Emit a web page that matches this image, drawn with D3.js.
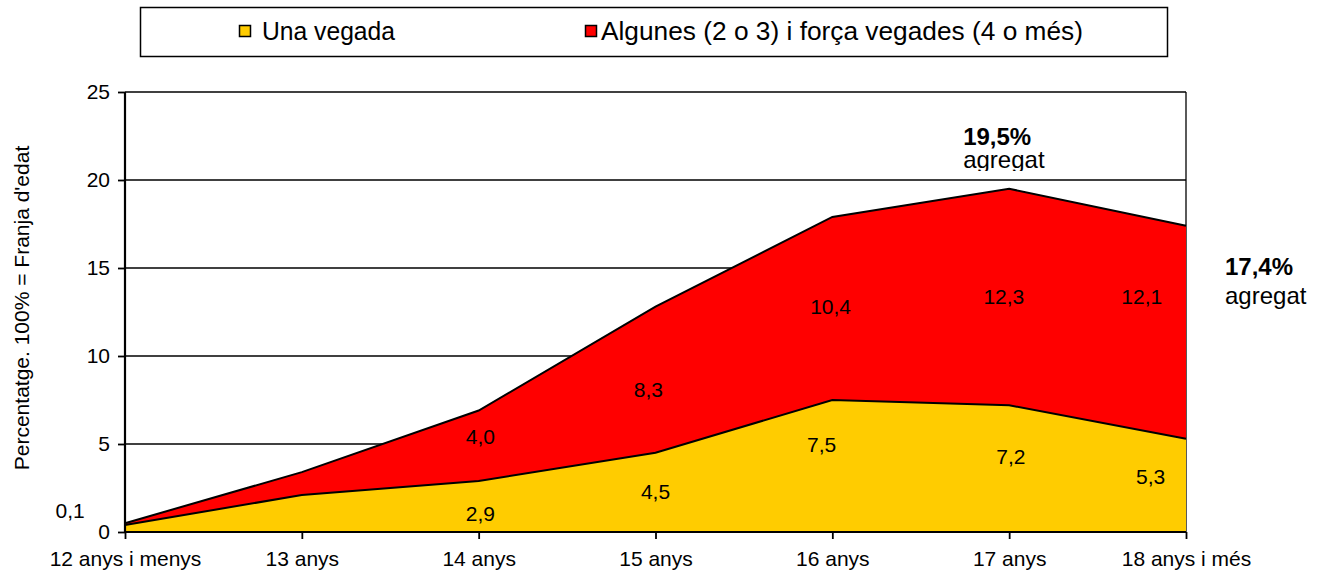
<!DOCTYPE html>
<html>
<head>
<meta charset="utf-8">
<script src="https://cdn.jsdelivr.net/npm/d3@7"></script>
<style>
  html, body { margin: 0; padding: 0; background: #fff; }
  svg { display: block; font-family: Arial, "Liberation Sans", sans-serif; }
</style>
</head>
<body>
<div id="chart"></div>
<script>
// categories and values (percent of each age band)
const categories = ['12 anys i menys', '13 anys', '14 anys', '15 anys', '16 anys', '17 anys', '18 anys i més'];
const unaVegada = [0.4, 2.1, 2.9, 4.5, 7.5, 7.2, 5.3];
const algunesVegades = [0.1, 1.3, 4.0, 8.3, 10.4, 12.3, 12.1];
const seriesNames = ['Una vegada', 'Algunes (2 o 3) i força vegades (4 o més)'];
const yTicks = [0, 5, 10, 15, 20, 25];

// where each value label sits: [category index, y in chart units]
const yellowLabelAt = [null, null, [2.01, 1.08], [3.0, 2.28], [3.94, 4.95], [5.01, 4.27], [5.8, 3.13]];
const redLabelAt = [[-0.31, 1.2], null, [2.01, 5.41], [2.96, 8.09], [3.99, 12.8], [4.97, 13.38], [5.75, 13.38]];

const width = 1325, height = 578;
const margin = { top: 92, right: 139, bottom: 46, left: 125 };
const innerW = width - margin.left - margin.right;
const innerH = height - margin.top - margin.bottom;

const colors = ['#FFCC00', '#FF0000'];
const fmt = v => v.toFixed(1).replace('.', ',');

const svg = d3.select('#chart').append('svg')
  .attr('width', width)
  .attr('height', height);

const x = d3.scaleLinear().domain([0, categories.length - 1]).range([0, innerW]);
const y = d3.scaleLinear().domain([0, 25]).range([innerH, 0]);

const g = svg.append('g').attr('transform', `translate(${margin.left},${margin.top})`);

// gridlines
g.append('g')
  .selectAll('line')
  .data(yTicks.filter(d => d > 0))
  .enter().append('line')
  .attr('x1', 0).attr('x2', innerW)
  .attr('y1', d => y(d)).attr('y2', d => y(d))
  .attr('stroke', '#000').attr('stroke-width', 1.3);

// right border
g.append('line')
  .attr('x1', innerW).attr('x2', innerW)
  .attr('y1', 0).attr('y2', innerH)
  .attr('stroke', '#000').attr('stroke-width', 1.3);

// stacked areas
const rows = categories.map((c, i) => ({ i, a: unaVegada[i], b: algunesVegades[i] }));
const stack = d3.stack().keys(['a', 'b']);
const layers = stack(rows);

const area = d3.area()
  .x(d => x(d.data.i))
  .y0(d => y(d[0]))
  .y1(d => y(d[1]));
const topLine = d3.line()
  .x(d => x(d.data.i))
  .y(d => y(d[1]));

layers.forEach((layer, k) => {
  g.append('path')
    .attr('d', area(layer))
    .attr('fill', colors[k]);
});
layers.forEach(layer => {
  g.append('path')
    .attr('d', topLine(layer))
    .attr('fill', 'none')
    .attr('stroke', '#000')
    .attr('stroke-width', 2);
});

// axes
const yAxis = g.append('g')
  .call(d3.axisLeft(y).tickValues(yTicks).tickSize(7).tickPadding(8).tickFormat(d3.format('d')));
const xAxis = g.append('g')
  .attr('transform', `translate(0,${innerH})`)
  .call(d3.axisBottom(x).tickValues(d3.range(categories.length)).tickSize(7).tickPadding(12)
    .tickFormat(i => categories[i]));

[yAxis, xAxis].forEach(ax => {
  ax.select('.domain').attr('stroke', '#000').attr('stroke-width', 2.2);
  ax.selectAll('.tick line').attr('stroke', '#000').attr('stroke-width', 1.8);
  ax.selectAll('.tick text').attr('font-size', 21).attr('fill', '#000')
    .attr('font-family', 'Arial, "Liberation Sans", sans-serif');
});
xAxis.select('.domain').attr('d', `M0,0H${innerW}`);
yAxis.select('.domain').attr('d', `M0,${innerH}V0`);

// value labels
const labelG = g.append('g')
  .attr('font-size', 21)
  .attr('text-anchor', 'middle')
  .attr('fill', '#000');

unaVegada.forEach((v, i) => {
  const p = yellowLabelAt[i];
  if (!p) return;
  labelG.append('text').attr('x', x(p[0])).attr('y', y(p[1])).attr('dy', '0.36em').text(fmt(v));
});
algunesVegades.forEach((v, i) => {
  const p = redLabelAt[i];
  if (!p) return;
  labelG.append('text').attr('x', x(p[0])).attr('y', y(p[1])).attr('dy', '0.36em').text(fmt(v));
});

// aggregate annotations
svg.append('clipPath').attr('id', 'clipAgg')
  .append('rect').attr('x', 0).attr('y', 0).attr('width', width).attr('height', margin.top + y(20) - 9);

const agg17 = unaVegada[5] + algunesVegades[5];
const agg18 = unaVegada[6] + algunesVegades[6];
const annG = svg.append('g').attr('font-size', 24).attr('fill', '#000');
annG.append('text')
  .attr('x', margin.left + x(5) - 46).attr('y', margin.top + y(20) - 35)
  .attr('font-weight', 'bold').text(fmt(agg17) + '%');
annG.append('text')
  .attr('x', margin.left + x(5) - 46).attr('y', margin.top + y(20) - 12)
  .attr('clip-path', 'url(#clipAgg)').text('agregat');
annG.append('text')
  .attr('x', margin.left + innerW + 39).attr('y', margin.top + y(agg18) + 49)
  .attr('font-weight', 'bold').text(fmt(agg18) + '%');
annG.append('text')
  .attr('x', margin.left + innerW + 39).attr('y', margin.top + y(agg18) + 78)
  .text('agregat');

// y axis title
svg.append('text')
  .attr('transform', `translate(29,${margin.top + 216}) rotate(-90)`)
  .attr('text-anchor', 'middle')
  .attr('font-size', 21)
  .text('Percentatge. 100% = Franja d\'edat');

// legend
const legend = svg.append('g');
legend.append('rect')
  .attr('x', 140.5).attr('y', 7.5).attr('width', 1027).attr('height', 49)
  .attr('fill', '#fff').attr('stroke', '#000').attr('stroke-width', 1.5);
const legendX = [239, 585];
const legendTextX = [262, 601];
const legendTextW = [133, 482];
seriesNames.forEach((name, k) => {
  legend.append('rect')
    .attr('x', legendX[k] + 0.5).attr('y', 25.5).attr('width', 11).attr('height', 11)
    .attr('fill', colors[k]).attr('stroke', '#000').attr('stroke-width', 1.5);
  legend.append('text')
    .attr('x', legendTextX[k]).attr('y', 40)
    .attr('font-size', 25)
    .attr('textLength', legendTextW[k])
    .attr('lengthAdjust', 'spacingAndGlyphs')
    .text(name);
});
</script>
</body>
</html>
